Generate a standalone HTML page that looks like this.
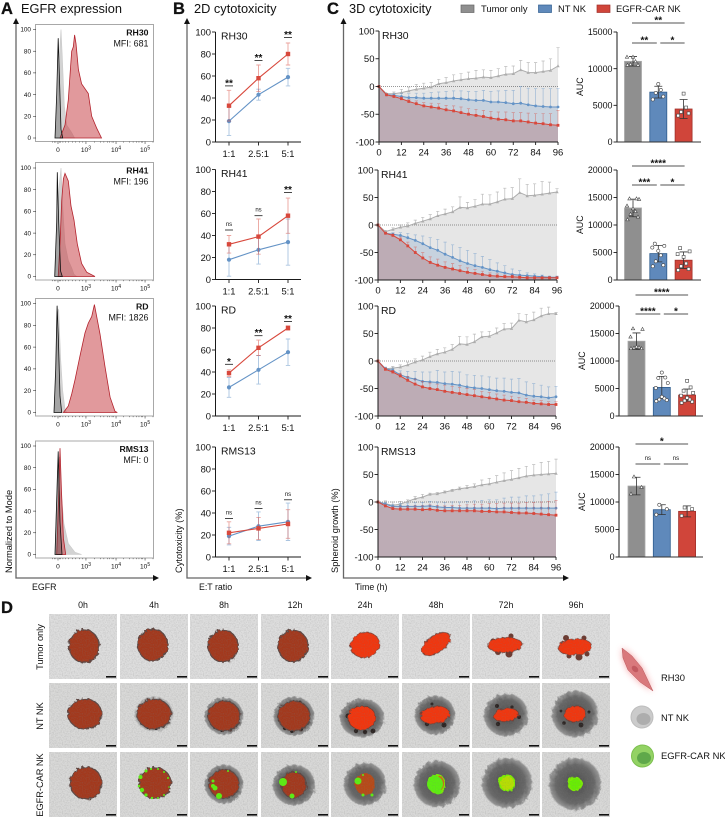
<!DOCTYPE html>
<html><head><meta charset="utf-8"><title>EGFR-CAR NK cytotoxicity figure</title>
<style>
html,body{margin:0;padding:0;background:#fff}
svg{display:block;font-family:"Liberation Sans",sans-serif;fill:#111}
</style></head><body>
<svg id="fig" xmlns="http://www.w3.org/2000/svg" width="725" height="818" viewBox="0 0 725 818">
<defs>
<filter id="rough" x="-20%" y="-20%" width="140%" height="140%"><feTurbulence type="fractalNoise" baseFrequency="0.28" numOctaves="2" seed="4"/><feDisplacementMap in="SourceGraphic" scale="4"/></filter>
<filter id="grain" x="0" y="0" width="100%" height="100%"><feTurbulence type="fractalNoise" baseFrequency="0.75" numOctaves="2" seed="7"/><feColorMatrix values="0 0 0 0 .2 0 0 0 0 .2 0 0 0 0 .2 0 0 0 1.6 -.62"/></filter>
<filter id="glow" x="-40%" y="-40%" width="180%" height="180%"><feGaussianBlur stdDeviation="3.5"/></filter>
<radialGradient id="haloGrad"><stop offset="0" stop-color="#3f3f3f"/><stop offset=".72" stop-color="#5c5c5c"/><stop offset=".93" stop-color="#7e7e7e" stop-opacity=".85"/><stop offset="1" stop-color="#999" stop-opacity="0"/></radialGradient>
</defs>

<g>
<text x="1" y="14" font-size="16.5" font-weight="700" stroke="#111" stroke-width=".3">A</text>
<text x="21" y="13" font-size="12.8">EGFR expression</text>
<text x="173" y="14" font-size="16.5" font-weight="700" stroke="#111" stroke-width=".3">B</text>
<text x="194" y="13" font-size="12.8">2D cytotoxicity</text>
<text x="327" y="14" font-size="16.5" font-weight="700" stroke="#111" stroke-width=".3">C</text>
<text x="349" y="13" font-size="12.8">3D cytotoxicity</text>
<text x="1" y="613" font-size="16.5" font-weight="700" stroke="#111" stroke-width=".3">D</text>
</g>

<g font-size="9.4">
<rect x="461" y="5" width="13" height="7.5" fill="#8f8f8f" stroke="#666" stroke-width=".7"/>
<text x="481" y="12">Tumor only</text>
<rect x="538.5" y="5" width="13" height="7.5" fill="#5f89bb" stroke="#2f5d8f" stroke-width=".7"/>
<text x="558" y="12">NT NK</text>
<rect x="597" y="5" width="13" height="7.5" fill="#d0453a" stroke="#a0302a" stroke-width=".7"/>
<text x="616" y="12">EGFR-CAR NK</text>
</g>

<g stroke="#666" stroke-width="1.3" fill="none">
<path d="M16 22V578H154"/>
<path d="M187 22V578H307"/>
<path d="M343.5 22V578H564"/>
</g>
<g fill="#111">
<path d="M16 18l-3 6h6z"/>
<path d="M159 578l-6-3v6z"/>
<path d="M187 18l-3 6h6z"/>
<path d="M312 578l-6-3v6z"/>
<path d="M343.5 18l-3 6h6z"/>
<path d="M569 578l-6-3v6z"/>
</g>
<g font-size="8.8">
<text transform="translate(12,573) rotate(-90)" font-size="9.3">Normalized to Mode</text>
<text x="32" y="590">EGFR</text>
<text transform="translate(182,573) rotate(-90)" font-size="9.3">Cytotoxicity (%)</text>
<text x="199" y="590">E:T ratio</text>
<text transform="translate(338,573) rotate(-90)" font-size="9.3">Spheroid growth (%)</text>
<text x="355" y="590">Time (h)</text>
</g>
<g id="panelA"></g>
<g id="panelB"></g>
<g id="panelC"></g>
<g id="panelBars"></g>
<g id="panelD"></g>

<g>
<polygon points="622,648 632,656 642,668 653,691 640,682 628,670 623,658" fill="#f26a6e" opacity=".65" filter="url(#glow)"/>
<polygon points="622,648 632,656 642,668 653,691 640,682 628,670 623,658" fill="#d9797c" stroke="#b9585c" stroke-width=".5"/>
<ellipse cx="635" cy="669" rx="3.8" ry="2.6" transform="rotate(45 635 669)" fill="#c25a60"/>
<text x="661" y="681" font-size="9.4">RH30</text>
<circle cx="642" cy="717" r="11" fill="#cbcbcb" stroke="#bdbdbd"/>
<ellipse cx="643.5" cy="719" rx="7" ry="6" fill="#adadad"/>
<text x="661" y="721" font-size="9.4">NT NK</text>
<circle cx="642.5" cy="756" r="11" fill="#93d264" stroke="#7dc050"/>
<ellipse cx="644" cy="758" rx="7" ry="6" fill="#5fa84a"/>
<text x="661" y="759" font-size="9.4">EGFR-CAR NK</text>
</g>
</svg>

<script>
/* ---------- Panel A: histogram data, [channel, % of mode] ---------- */
const histYTicks = [0, 20, 40, 60, 80, 100];
const histXTickChannels = [18.8, 42.7, 68.4, 93.2];
const histXTickExponents = ['', '3', '4', '5'];
const histMinorChannels = [14, 16, 17, 20, 21, 23, 25, 28, 31, 34, 37, 40, 50, 55, 58, 61, 63, 65, 66, 75, 80, 83, 86, 88, 90, 91, 100];
const rh30Red = [[20.5,0],[24.8,12],[27.6,35],[29.6,66],[30.5,80],[31.9,84],[33,95],[34.2,87],[36.2,63],[39,50],[44.7,41],[47.6,20],[51.9,9],[56,0]];
const rh30Gray = [[16.2,0],[18.2,30],[19.9,75],[21.4,100],[22.5,75],[24.2,30],[26.2,12],[30.5,5],[33,0]];
const rh30Black = [[16.2,0],[17.7,40],[19,92],[19.9,60],[21.4,8],[22.8,0]];
const rh41Red = [[19,0],[20.5,30],[22,70],[23.4,90],[24.8,95],[27.6,88],[29.9,65],[32.5,52],[35.3,30],[39,12],[43.3,4],[50.4,0]];
const rh41Gray = [[16.2,0],[18.2,40],[19.9,85],[21.4,100],[22.8,65],[24.8,30],[27.6,15],[30.5,8],[32.5,2],[34.8,0]];
const rh41Black = [[16,0],[17.7,50],[18.2,96],[19.4,50],[21,5],[22.5,0]];
const rdRed = [[23.4,0],[27.6,6],[30.5,17],[33.3,30],[37.6,52],[41.9,73],[44.7,82],[47.6,88],[49.9,99],[51.9,88],[54.7,72],[59,42],[63.3,14],[67.5,1],[69.5,0]];
const rdGray = [[15.4,0],[17,40],[18.2,90],[19.4,95],[21,50],[22.8,20],[24.8,3],[26.2,0]];
const rdBlack = [[15.4,0],[16.8,40],[18,98],[19.1,70],[20.5,15],[22,0]];
const rms13Red = [[17.7,0],[19.4,55],[20.5,98],[21.7,60],[23.4,15],[25.4,0]];
const rms13Gray = [[16.2,0],[18.2,75],[19.9,90],[21.7,55],[23.9,28],[27.6,10],[33.3,2],[39,0]];
const rms13Black = [[16.2,0],[17.7,50],[19,95],[20.5,30],[22.2,0]];

/* ---------- Panel B: cytotoxicity ---------- */
const ratioLabels = ['1:1', '2.5:1', '5:1'];
const cytoTicks = [0, 20, 40, 60, 80, 100];
const rh30CytoCar = [33, 58, 80];
const rh30CytoCarErr = [14, 12, 10];
const rh30CytoNt = [19, 43, 59];
const rh30CytoNtErr = [13, 5, 8];
const rh30CytoSig = ['**', '**', '**'];
const rh30CytoSigLevel = [51, 74, 95];
const rh41CytoCar = [32, 39, 58];
const rh41CytoCarErr = [8, 16, 16];
const rh41CytoNt = [18, 27, 34];
const rh41CytoNtErr = [15, 13, 21];
const rh41CytoSig = ['ns', 'ns', '**'];
const rh41CytoSigLevel = [45, 58, 79];
const rdCytoCar = [39, 62, 80];
const rdCytoCarErr = [3, 7, 2];
const rdCytoNt = [26, 42, 58];
const rdCytoNtErr = [9, 13, 12];
const rdCytoSig = ['*', '**', '**'];
const rdCytoSigLevel = [47, 73, 86];
const rms13CytoCar = [22, 26, 30];
const rms13CytoCarErr = [10, 10, 13];
const rms13CytoNt = [19, 28, 32];
const rms13CytoNtErr = [8, 13, 17];
const rms13CytoSig = ['ns', 'ns', 'ns'];
const rms13CytoSigLevel = [35, 44, 52];

/* ---------- Panel C: spheroid growth ---------- */
const timeHours = [0,4,8,12,16,20,24,28,32,36,40,44,48,52,56,60,64,68,72,76,80,84,88,92,96];
const timeTicks = [0,12,24,36,48,60,72,84,96];
const growthTicks = [-100,-50,0,50,100];
const rh30Tumor = [0,-13,-13,-11,-8,-5,-3,-1,5,7,10,12,14,15,17,16,19,22,23,30,25,25,27,29,37];
const rh30TumorErr = [0,1,3,6,7,9,9,8,8,9,11,11,12,14,13,13,13,14,14,17,18,18,19,21,33];
const rh30Nt = [0,-15,-16,-18,-20,-20,-21,-21,-21,-21,-21,-22,-24,-25,-25,-28,-28,-29,-31,-30,-33,-35,-36,-37,-37];
const rh30NtErr = [0,2,3,6,7,8,9,10,11,12,13,14,15,16,18,19,20,22,24,30,30,31,32,33,33];
const rh30Car = [0,-15,-18,-22,-27,-31,-35,-37,-39,-42,-44,-47,-50,-52,-54,-57,-59,-60,-62,-62,-64,-66,-67,-69,-70];
const rh30CarErr = [0,1,2,3,4,5,6,7,8,8,9,10,10,11,11,12,13,14,15,15,16,17,18,20,27];
const rh41Tumor = [0,-12,-8,-4,-2,3,7,11,17,20,24,32,31,34,38,38,42,47,48,59,53,54,56,58,60];
const rh41TumorErr = [0,2,3,4,6,6,7,8,8,9,9,19,10,12,18,17,18,20,20,25,21,21,23,20,6];
const rh41Nt = [0,-15,-17,-19,-23,-28,-34,-41,-46,-53,-59,-65,-70,-74,-77,-81,-84,-87,-90,-91,-92,-93,-94,-95,-95];
const rh41NtErr = [0,2,3,5,8,10,14,18,20,22,23,24,24,22,20,18,15,13,10,8,5,4,3,2,2];
const rh41Car = [0,-15,-19,-27,-38,-50,-60,-68,-73,-77,-80,-83,-86,-88,-90,-92,-93,-94,-94,-95,-96,-96,-96,-96,-96];
const rh41CarErr = [0,1,3,5,7,10,10,10,11,10,10,9,8,7,6,5,4,3,3,2,2,1,1,1,1];
const rdTumor = [0,-14,-13,-11,-7,-2,2,8,13,16,21,31,30,35,44,45,51,58,59,74,71,75,82,86,86];
const rdTumorErr = [0,2,3,4,5,6,7,8,8,8,9,14,14,14,9,9,9,10,10,12,14,14,14,12,2];
const rdNt = [0,-14,-17,-25,-30,-33,-37,-38,-39,-41,-42,-44,-47,-49,-50,-52,-54,-55,-57,-58,-62,-64,-65,-67,-65];
const rdNtErr = [0,3,4,7,11,14,17,18,22,21,23,24,22,23,23,23,23,24,24,26,24,23,21,20,19];
const rdCar = [0,-15,-20,-27,-35,-42,-47,-50,-52,-55,-57,-59,-61,-63,-65,-67,-69,-71,-72,-74,-75,-77,-78,-79,-79];
const rdCarErr = [0,2,3,5,7,9,10,10,10,11,11,11,11,11,10,10,9,9,8,8,7,6,6,5,5];
const rms13Tumor = [0,-3,-6,-4,1,6,9,14,15,18,21,24,26,28,31,33,36,39,41,44,47,49,50,51,52];
const rms13TumorErr = [0,5,6,5,3,4,5,2,2,2,2,3,4,5,9,10,12,14,16,17,18,19,22,23,26];
const rms13Nt = [0,-4,-8,-8,-8,-8,-8,-7,-9,-10,-10,-11,-11,-11,-11,-11,-12,-11,-11,-11,-11,-11,-11,-11,-11];
const rms13NtErr = [0,3,4,5,6,7,7,8,9,9,10,11,12,13,14,15,16,18,20,20,22,22,24,26,29];
const rms13Car = [0,-7,-12,-13,-13,-13,-14,-13,-15,-16,-16,-16,-16,-16,-17,-17,-18,-18,-19,-20,-20,-21,-22,-23,-24];
const rms13CarErr = [0,2,3,4,5,6,7,8,9,9,10,10,11,12,13,14,15,16,17,18,19,20,22,24,27];

/* ---------- Panel C: AUC bars ---------- */
const aucTicks15k = [0, 5000, 10000, 15000];
const aucTicks20k = [0, 5000, 10000, 15000, 20000];
const rh30AucMeans = [11000, 6800, 4500];
const rh30AucErrs = [650, 800, 1300];
const rh30AucTumorPts = [10500,10500,10600,11000,11600,11600];
const rh30AucNtPts = [5800,6200,6700,7100,7900];
const rh30AucCarPts = [3600,3900,4100,4700,6600];
const rh30AucSig = ['**', '**', '*'];
const rh41AucMeans = [13100, 4800, 3600];
const rh41AucErrs = [1600, 1500, 1500];
const rh41AucTumorPts = [11000,11500,12000,12500,13000,13500,14700,14800,14800];
const rh41AucNtPts = [2500,2700,3400,4500,5300,5900,6200,6600];
const rh41AucCarPts = [1800,2000,2500,3000,4200,4700,5200,5800];
const rh41AucSig = ['****', '***', '*'];
const rdAucMeans = [13600, 5200, 3800];
const rdAucErrs = [1500, 2000, 1100];
const rdAucTumorPts = [12300,12300,12400,12500,12600,14400,15800,15900];
const rdAucNtPts = [2700,2900,3000,3200,3500,5100,6000,6900,7000,7900];
const rdAucCarPts = [2400,2600,2800,3000,3300,3700,4200,4600,5200,6400];
const rdAucSig = ['****', '****', '*'];
const rms13AucMeans = [12900, 8600, 8300];
const rms13AucErrs = [1600, 900, 1000];
const rms13AucTumorPts = [11500,12700,14600];
const rms13AucNtPts = [7700,8700,9500];
const rms13AucCarPts = [7500,8700,9000];
const rms13AucSig = ['*', 'ns', 'ns'];

/* ---------- Panel D: labels ---------- */
const micrographTimes = ['0h','4h','8h','12h','24h','48h','72h','96h'];
const micrographRows = ['Tumor only','NT NK','EGFR-CAR NK'];

const NS = 'http://www.w3.org/2000/svg';
function el(tag, attrs, parent) {
  const n = document.createElementNS(NS, tag);
  for (const k in attrs) n.setAttribute(k, attrs[k]);
  parent.appendChild(n);
  return n;
}
const INK = '#1a1a1a';
const COL = {
  gray: {line:'#adadad', err:'rgba(165,165,165,.75)', area:'#e6e6e6'},
  blue: {line:'#6493c6', err:'rgba(100,147,198,.55)', area:'rgba(90,140,195,.22)'},
  red:  {line:'#d8483c', err:'rgba(216,72,60,.5)', area:'rgba(160,60,60,.25)'}
};

/* ---------- histograms ---------- */
function drawHist(key, label, mfi, top, y100, y0, red, gray, black) {
  const g = el('g', {}, document.getElementById('panelA'));
  
  
  const hx = c => 36 + c * 1.17;
  const hy = v => y0 + (y100 - y0) * v / 100;
  const pathOf = s => 'M' + s.map(p => hx(p[0]).toFixed(1) + ' ' + hy(p[1]).toFixed(1)).join('L');
  const frame = el('rect', {x:35.5, y:top, width:118, height:y0 + 3.5 - top, fill:'#fff', stroke:'#a8a8a8', 'stroke-width':1}, g);
  
  
  const grayC = el('path', {d:pathOf(gray) + 'Z', fill:'rgba(150,150,150,.42)', stroke:'#c9c9c9', 'stroke-width':.6}, g);
  
  
  const redC = el('path', {d:pathOf(red) + 'Z', fill:'rgba(200,70,75,.55)', stroke:'#b3222c', 'stroke-width':.8}, g);
  
  
  const blackC = el('path', {d:pathOf(black) + 'Z', fill:'rgba(60,60,60,.3)', stroke:'#111', 'stroke-width':.8}, g);
  
  
  histYTicks.forEach(v => {
    const t = el('line', {x1:33, x2:36, y1:hy(v), y2:hy(v), stroke:INK, 'stroke-width':.5}, g);
    
    
    const l = el('text', {x:31, y:hy(v) + 2.2, 'font-size':6.4, 'text-anchor':'end'}, g);
    
    
    l.textContent = v;
  });
  const axisY = y0 + 3.5;
  histMinorChannels.forEach(c => {
    const t = el('line', {x1:hx(c), x2:hx(c), y1:axisY, y2:axisY + 1.2, stroke:INK, 'stroke-width':.4}, g);
    
    
  });
  histXTickChannels.forEach((c, i) => {
    const t = el('line', {x1:hx(c), x2:hx(c), y1:axisY, y2:axisY + 2.5, stroke:INK, 'stroke-width':.5}, g);
    
    
    const l = el('text', {x:hx(c), y:axisY + 10.5, 'font-size':6.6, 'text-anchor':'middle'}, g);
    
    
    if (i === 0) { l.textContent = '0'; }
    else {
      l.textContent = '10';
      const s = el('tspan', {dy:-2.5, 'font-size':5}, l);
      s.textContent = histXTickExponents[i];
    }
  });
  const n = el('text', {x:148.5, y:top + 11, 'font-size':8.7, 'font-weight':700, 'text-anchor':'end'}, g);
  
  
  n.textContent = label;
  const m = el('text', {x:148.5, y:top + 22, 'font-size':8.9, 'text-anchor':'end'}, g);
  
  
  m.textContent = mfi;
}
drawHist('rh30', 'RH30', 'MFI: 681', 24.5, 29.5, 138, rh30Red, rh30Gray, rh30Black);
drawHist('rh41', 'RH41', 'MFI: 196', 162.5, 168, 276.5, rh41Red, rh41Gray, rh41Black);
drawHist('rd', 'RD', 'MFI: 1826', 298.5, 303.5, 412.5, rdRed, rdGray, rdBlack);
drawHist('rms13', 'RMS13', 'MFI: 0', 441, 446, 554.5, rms13Red, rms13Gray, rms13Black);

/* ---------- shared axes ---------- */
function sigMark(g, x1, x2, y, label) {
  const ln = el('line', {x1:x1, x2:x2, y1:y, y2:y, stroke:INK, 'stroke-width':.8}, g);
  
  
  const isNs = label === 'ns';
  const t = el('text', {x:(x1 + x2) / 2, y:isNs ? y - 4 : y + 0.5, 'font-size':isNs ? 6 : 10, 'font-weight':isNs ? 400 : 700, 'text-anchor':'middle'}, g);
  
  
  t.textContent = label;
}
function yAxis(g, x, ticks, ys, size) {
  const a = el('line', {x1:x, x2:x, y1:ys(ticks[ticks.length - 1]), y2:ys(ticks[0]), stroke:INK, 'stroke-width':1}, g);
  
  
  ticks.forEach(v => {
    const t = el('line', {x1:x - 3.5, x2:x, y1:ys(v), y2:ys(v), stroke:INK, 'stroke-width':.9}, g);
    
    
    const l = el('text', {x:x - 4.5, y:ys(v) + size * .35, 'font-size':size, 'text-anchor':'end'}, g);
    
    
    l.textContent = v;
  });
}

/* ---------- 2D cytotoxicity ---------- */
function drawCyto(key, label, y100, y0, car, carErr, nt, ntErr, sig, sigLevel) {
  const g = el('g', {}, document.getElementById('panelB'));
  
  
  const xs = i => 229 + i * 29.5;
  const ys = v => y0 + (y100 - y0) * v / 100;
  yAxis(g, 215.5, cytoTicks, ys, 9.4);
  const ax = el('line', {x1:215.5, x2:301, y1:y0, y2:y0, stroke:INK, 'stroke-width':1}, g);
  
  
  ratioLabels.forEach((r, i) => {
    const t = el('line', {x1:xs(i), x2:xs(i), y1:y0, y2:y0 + 3.5, stroke:INK, 'stroke-width':.9}, g);
    
    
    const l = el('text', {x:xs(i), y:y0 + 15, 'font-size':9.4, 'text-anchor':'middle'}, g);
    
    
    l.textContent = r;
  });
  const title = el('text', {x:221, y:y100 + 7.5, 'font-size':10.4}, g);
  
  
  title.textContent = label;
  [[nt, ntErr, COL.blue, 'nt-nk'], [car, carErr, COL.red, 'egfr-car-nk']].forEach(([vals, errs, c, nm]) => {
    vals.forEach((v, i) => {
      const e = el('path', {d:'M' + (xs(i) - 2.2) + ' ' + ys(v + errs[i]) + 'h4.4M' + xs(i) + ' ' + ys(v + errs[i]) + 'V' + ys(v - errs[i]) + 'M' + (xs(i) - 2.2) + ' ' + ys(v - errs[i]) + 'h4.4', stroke:c.err, 'stroke-width':.9, fill:'none'}, g);
      
      
    });
    const ln = el('polyline', {points:vals.map((v, i) => xs(i) + ',' + ys(v)).join(' '), fill:'none', stroke:c.line, 'stroke-width':1.1}, g);
    
    
    vals.forEach((v, i) => {
      const mk = nm === 'nt-nk'
        ? el('circle', {cx:xs(i), cy:ys(v), r:2.1, fill:c.line}, g)
        : el('rect', {x:xs(i) - 2.2, y:ys(v) - 2.2, width:4.4, height:4.4, fill:c.line}, g);
      
      
    });
  });
  sig.forEach((s, i) => sigMark(g, xs(i) - 4, xs(i) + 4, ys(sigLevel[i]), s));
}
drawCyto('rh30', 'RH30', 32, 142, rh30CytoCar, rh30CytoCarErr, rh30CytoNt, rh30CytoNtErr, rh30CytoSig, rh30CytoSigLevel);
drawCyto('rh41', 'RH41', 169.5, 279.5, rh41CytoCar, rh41CytoCarErr, rh41CytoNt, rh41CytoNtErr, rh41CytoSig, rh41CytoSigLevel);
drawCyto('rd', 'RD', 306, 416, rdCytoCar, rdCytoCarErr, rdCytoNt, rdCytoNtErr, rdCytoSig, rdCytoSigLevel);
drawCyto('rms13', 'RMS13', 447, 557, rms13CytoCar, rms13CytoCarErr, rms13CytoNt, rms13CytoNtErr, rms13CytoSig, rms13CytoSigLevel);

/* ---------- 3D growth curves ---------- */
function drawGrowth(key, label, x0, x96, yTop, yBot, tumor, tumorErr, nt, ntErr, car, carErr) {
  const g = el('g', {}, document.getElementById('panelC'));
  
  
  const xs = t => x0 + (x96 - x0) * t / 96;
  const ys = v => yBot + (yTop - yBot) * (v + 100) / 200;
  const sets = [[tumor, tumorErr, COL.gray, 'tumor-only'], [nt, ntErr, COL.blue, 'nt-nk'], [car, carErr, COL.red, 'egfr-car-nk']];
  sets.forEach(([vals, errs, c, nm]) => {
    const ar = el('polygon', {points:xs(0) + ',' + yBot + ' ' + vals.map((v, i) => xs(timeHours[i]).toFixed(1) + ',' + ys(v).toFixed(1)).join(' ') + ' ' + xs(96) + ',' + yBot, fill:c.area}, g);
    
    
  });
  const zero = el('line', {x1:x0, x2:x96, y1:ys(0), y2:ys(0), stroke:'#333', 'stroke-width':.6, 'stroke-dasharray':'1 1'}, g);
  
  
  sets.forEach(([vals, errs, c, nm]) => {
    vals.forEach((v, i) => {
      if (!errs[i]) return;
      const x = xs(timeHours[i]);
      const e = el('path', {d:'M' + (x - 1.6).toFixed(1) + ' ' + ys(v + errs[i]).toFixed(1) + 'h3.2M' + x.toFixed(1) + ' ' + ys(v + errs[i]).toFixed(1) + 'V' + ys(v).toFixed(1), stroke:c.err, 'stroke-width':.7, fill:'none'}, g);
      
      
    });
    const ln = el('polyline', {points:vals.map((v, i) => xs(timeHours[i]).toFixed(1) + ',' + ys(v).toFixed(1)).join(' '), fill:'none', stroke:c.line, 'stroke-width':1}, g);
    
    
    vals.forEach((v, i) => {
      const x = xs(timeHours[i]), y = ys(v);
      let mk;
      if (nm === 'tumor-only') mk = el('path', {d:'M' + x.toFixed(1) + ' ' + (y - 1.7).toFixed(1) + 'l1.7 3h-3.4z', fill:c.line}, g);
      else if (nm === 'nt-nk') mk = el('circle', {cx:x.toFixed(1), cy:y.toFixed(1), r:1.4, fill:c.line}, g);
      else mk = el('rect', {x:(x - 1.4).toFixed(1), y:(y - 1.4).toFixed(1), width:2.8, height:2.8, fill:c.line}, g);
      
      
    });
  });
  yAxis(g, x0, growthTicks, ys, 9.5);
  const ax = el('line', {x1:x0, x2:x96, y1:yBot, y2:yBot, stroke:INK, 'stroke-width':1}, g);
  
  
  timeTicks.forEach(t => {
    const tk = el('line', {x1:xs(t), x2:xs(t), y1:yBot, y2:yBot + 3, stroke:INK, 'stroke-width':.9}, g);
    
    
    const l = el('text', {x:xs(t), y:yBot + 13.5, 'font-size':9.5, 'text-anchor':'middle'}, g);
    
    
    l.textContent = t;
  });
  const title = el('text', {x:x0 + 3, y:yTop + 8, 'font-size':10.4}, g);
  
  
  title.textContent = label;
}
drawGrowth('rh30', 'RH30', 379, 558, 31, 142, rh30Tumor, rh30TumorErr, rh30Nt, rh30NtErr, rh30Car, rh30CarErr);
drawGrowth('rh41', 'RH41', 378, 557, 170, 280, rh41Tumor, rh41TumorErr, rh41Nt, rh41NtErr, rh41Car, rh41CarErr);
drawGrowth('rd', 'RD', 378, 556, 306, 416, rdTumor, rdTumorErr, rdNt, rdNtErr, rdCar, rdCarErr);
drawGrowth('rms13', 'RMS13', 378, 556, 447, 557, rms13Tumor, rms13TumorErr, rms13Nt, rms13NtErr, rms13Car, rms13CarErr);

/* ---------- AUC bars ---------- */
function drawAuc(key, axisX, barX, yTop, yBot, ticks, means, errs, ptsT, ptsN, ptsC, sig, sigTop, sigLow) {
  const g = el('g', {}, document.getElementById('panelBars'));
  
  
  const maxV = ticks[ticks.length - 1];
  const ys = v => yBot + (yTop - yBot) * v / maxV;
  const fills = ['#8f8f8f', '#5f89bb', '#d0453a'];
  const strokes = ['#a9a9a9', '#2f5d8f', '#a0302a'];
  const names = ['tumor-only', 'nt-nk', 'egfr-car-nk'];
  const pts = [ptsT, ptsN, ptsC];
  const w = 17, step = 25.3;
  const jitter = [-5.5, 5, -2.5, 2.5, 0, -6, 6, -3.5, 3.5, 0];
  means.forEach((m, i) => {
    const x = barX + i * step;
    const b = el('rect', {x:x, y:ys(m), width:w, height:yBot - ys(m), fill:fills[i], stroke:strokes[i], 'stroke-width':.8}, g);
    
    
    const cx = x + w / 2;
    const e = el('path', {d:'M' + (cx - 4) + ' ' + ys(m + errs[i]) + 'h8M' + cx + ' ' + ys(m + errs[i]) + 'V' + ys(m - errs[i]) + 'M' + (cx - 4) + ' ' + ys(m - errs[i]) + 'h8', stroke:'#333', 'stroke-width':.8, fill:'none'}, g);
    
    
    pts[i].forEach((v, j) => {
      const px = cx + jitter[j % jitter.length], py = ys(v);
      const style = {fill:'#fff', stroke:'#444', 'stroke-width':.6};
      let mk;
      if (i === 0) mk = el('path', Object.assign({d:'M' + px + ' ' + (py - 1.7) + 'l1.7 3h-3.4z'}, style), g);
      else if (i === 1) mk = el('circle', Object.assign({cx:px, cy:py, r:1.6}, style), g);
      else mk = el('rect', Object.assign({x:px - 1.5, y:py - 1.5, width:3, height:3}, style), g);
      
      
    });
  });
  yAxis(g, axisX, ticks, ys, 8.9);
  const ax = el('line', {x1:axisX, x2:axisX + 84, y1:yBot, y2:yBot, stroke:'#333', 'stroke-width':1}, g);
  
  
  const auc = el('text', {transform:'translate(' + (axisX - 34) + ',' + ((yTop + yBot) / 2 + 9) + ') rotate(-90)', 'font-size':8.8}, g);
  
  
  auc.textContent = 'AUC';
  const L = barX + w / 2 - 1, M = barX + step + w / 2, R = barX + 2 * step + w / 2 + 1;
  sigMark(g, L, R, sigTop, sig[0]);
  sigMark(g, L, M - 1.5, sigLow, sig[1]);
  sigMark(g, M + 2, R, sigLow, sig[2]);
}
drawAuc('rh30', 617, 624.5, 32, 142, aucTicks15k, rh30AucMeans, rh30AucErrs, rh30AucTumorPts, rh30AucNtPts, rh30AucCarPts, rh30AucSig, 23, 43);
drawAuc('rh41', 617, 624.5, 170, 280, aucTicks20k, rh41AucMeans, rh41AucErrs, rh41AucTumorPts, rh41AucNtPts, rh41AucCarPts, rh41AucSig, 166, 185);
drawAuc('rd', 619, 628, 306, 416, aucTicks20k, rdAucMeans, rdAucErrs, rdAucTumorPts, rdAucNtPts, rdAucCarPts, rdAucSig, 295, 314);
drawAuc('rms13', 619, 628, 447, 557, aucTicks20k, rms13AucMeans, rms13AucErrs, rms13AucTumorPts, rms13AucNtPts, rms13AucCarPts, rms13AucSig, 444, 464);

/* ---------- Panel D micrographs (illustrative tiles) ---------- */
const tileX = [49, 120, 190, 261, 331, 402, 472, 542];
const tileY = [614, 683, 752];
// [cx, cy, rx, ry, rotation, colour, haloRx, haloRy]
const DARK = '#a3371f', BRIGHT = '#f2360f';
const tiles = [
  [[35,32,15,16.5,0,DARK,0,0],[32.7,31,15,16,0,DARK,0,0],[33,32,15,16,0,DARK,0,0],[32,32,15,16,0,DARK,0,0],[34,31,14.5,12.5,-15,BRIGHT,0,0],[34,30,16,8.5,-35,BRIGHT,0,0],[33,31,17,7.5,-3,BRIGHT,0,0],[33,33,16.5,8,-5,BRIGHT,0,0]],
  [[36,31,17,15,0,DARK,0,0],[34,31,17,15,0,DARK,19,17],[34,33,16,15,0,DARK,19,18],[33,33,16,15,0,DARK,20,19],[31,35,14,12,0,BRIGHT,22,19],[33,32,14.5,8.5,-10,BRIGHT,20,19],[34,32,12.5,6.5,-8,BRIGHT,22,21],[33,31,11,8,-5,BRIGHT,23,23]],
  [[37,31,16,16,0,DARK,0,0],[35,31,16,15.5,0,DARK,0,0],[34,32,15,14.5,0,DARK,19,19],[33,33,12.5,13,0,DARK,21,20],[34,32,10,11,0,'#b84a18',21,21],[35,32,7,8.5,20,'#d06a14',23,23],[35,31,7,7,0,'#b8e000',25,25],[33,32,5.8,5.8,0,'#68f000',26,26]]
];
// [dx, dy, r] green cell clusters relative to the blob centre
const greenSpots = {
  '2,1':[[-14.5,-6,2],[-16,3,1.3],[-13,7,2.2],[-9,12,1.6],[-3,15,1.2],[3,15,1],[9,12,1],[14,4,.8],[13,-5,1],[9,-11,1],[3,-14,1],[-4,-14,1.1],[-9,-12,1.5]],
  '2,2':[[-11,2,2],[-9,4,2.5],[-5,12,3],[-11,-3,1.5],[4,-13,1]],
  '2,3':[[-11,-3,4],[-2,11,2.5],[2,-13,1]],
  '2,4':[[-7,-3,3.5],[-2,11,1.5],[7,11,1.5],[-2,-9,1]],
  '2,5':[[-2,0,8],[1,7,3.5],[-3,-6,3]]
};
// [dx, dy, r] dark debris around the blobs
const darkSpots = {
  '0,5':[[9,-2,3],[-10,8,2.5]],
  '0,6':[[-12,-4,2.5],[-7,7,3],[4,9,3.5],[13,3,2.2],[6,-9,2.5]],
  '0,7':[[-9,-9,3],[9,-9,2.5],[-6,9,2.5],[4,10,3.5],[12,7,2.5]],
  '1,1':[[-12,9,2],[-6,13,2],[2,14,2],[9,12,1.8],[-15,3,1.5],[5,-13,1.5]],
  '1,2':[[-13,5,2],[-9,11,2],[-2,14,2],[6,13,2],[12,9,1.6],[-12,-7,1.6]],
  '1,3':[[-14,4,2.2],[-9,12,2.2],[-2,15,2],[7,13,2],[13,7,1.8],[6,-14,1.4]],
  '1,4':[[-14,-2,2.5],[-6,13,2.2],[3,14,2.2],[11,13,2.4]],
  '1,5':[[-8,9,2.2],[9,10,2.5],[-3,-11,1.5]],
  '1,6':[[-9,-9,2],[6,-8,1.6],[-8,9,2.2],[13,2,2]],
  '1,7':[[-11,9,1.8],[6,11,2.4],[14,-2,1.5],[-14,-3,1.4]]
};
const panelD = document.getElementById('panelD');
micrographTimes.forEach((t, c) => {
  const l = el('text', {x:tileX[c] + 34, y:608, 'font-size':8.8, 'text-anchor':'middle'}, panelD);
  
  
  l.textContent = t;
});
micrographRows.forEach((r, i) => {
  const l = el('text', {transform:'translate(43,' + (tileY[i] + 33) + ') rotate(-90)', 'font-size':9.2, 'text-anchor':'middle'}, panelD);
  
  
  l.textContent = r;
});
tiles.forEach((row, r) => row.forEach((s, c) => {
  const g = el('g', {transform:'translate(' + tileX[c] + ',' + tileY[r] + ')'}, panelD);
  
  
  const bg = el('rect', {width:68, height:65, fill:r === 0 ? '#dedede' : '#d9d9d8'}, g);
  
  
  if (s[6]) {
    const halo = el('ellipse', {cx:s[0], cy:s[1], rx:s[6] + 1, ry:s[7] + 1, fill:'url(#haloGrad)', filter:'url(#rough)', opacity:(r === 1 && c === 1) ? .5 : .9}, g);
    
    
  }
  if (r === 2 && c >= 5) {
    const green = el('ellipse', {cx:s[0], cy:s[1], rx:s[2] + 1.5, ry:s[3] + 1.5, fill:'#7cf000', filter:'url(#rough)'}, g);
    
    
  }
  (darkSpots[r + ',' + c] || []).forEach(d => {
    const sp = el('circle', {cx:s[0] + d[0], cy:s[1] + d[1], r:d[2], fill:r === 0 ? '#6b3a30' : '#2b2422'}, g);
    
    
  });
  const blob = el('ellipse', {cx:s[0], cy:s[1], rx:s[2], ry:s[3], fill:s[5], stroke:s[5] === DARK ? '#5d4743' : (r === 2 ? 'none' : '#6a3a30'), 'stroke-width':s[5] === DARK ? 1.2 : .7, transform:'rotate(' + s[4] + ' ' + s[0] + ' ' + s[1] + ')', filter:'url(#rough)'}, g);
  
  
  (greenSpots[r + ',' + c] || []).forEach(d => {
    const dot = el('circle', {cx:s[0] + d[0], cy:s[1] + d[1], r:d[2], fill:'#5cf010'}, g);
    
    
  });
  const noise = el('rect', {width:68, height:65, fill:'#000', filter:'url(#grain)', opacity:.3}, g);
  
  
  const sb = el('rect', {x:57, y:62, width:10, height:1.6, fill:'#111'}, g);
  
  
}));
</script>
</body></html>
